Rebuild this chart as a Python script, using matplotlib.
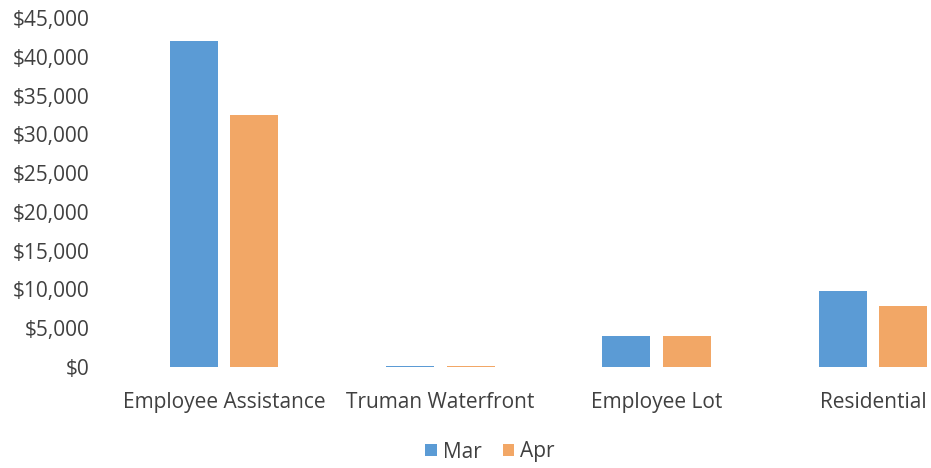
import matplotlib
matplotlib.use("Agg")
import matplotlib.pyplot as plt
import numpy as np
from matplotlib.ticker import FuncFormatter

categories = ["Employee Assistance", "Truman Waterfront", "Employee Lot", "Residential"]
mar = [42000, 150, 4000, 9800]
apr = [32500, 120, 4000, 7850]
series_names = ["Mar", "Apr"]

plt.rcParams['font.family'] = ['Open Sans', 'DejaVu Sans']

fig = plt.figure(figsize=(9.31, 4.68), dpi=100)
ax = fig.add_axes([116/931, (468-367)/468, 1 - 116/931, (367-18)/468])

x = np.arange(len(categories))
w = 0.222
ax.bar(x - 0.14, mar, width=w, color="#5B9BD5", label=series_names[0])
ax.bar(x + 0.14, apr, width=w, color="#F2A766", label=series_names[1])

ax.set_xlim(-0.5, 3.5 - 50/216)
ax.set_ylim(0, 45000)
ax.set_yticks(np.arange(0, 45001, 5000))
ax.yaxis.set_major_formatter(FuncFormatter(lambda v, p: "${:,.0f}".format(v)))
ax.set_xticks(x)
ax.set_xticklabels(categories)
for s in ax.spines.values():
    s.set_visible(False)
ax.tick_params(axis='both', length=0, labelsize=15, colors="#404040")
ax.tick_params(axis='x', pad=18)
ax.tick_params(axis='y', pad=19)

fig.legend(loc="center", bbox_to_anchor=(490/931, 1 - 452/468), ncol=2, frameon=False,
           fontsize=15, handlelength=0.55, handleheight=0.55, handletextpad=0.3, columnspacing=1.0,
           labelcolor="#404040")

fig.savefig("out.png", dpi=100)
